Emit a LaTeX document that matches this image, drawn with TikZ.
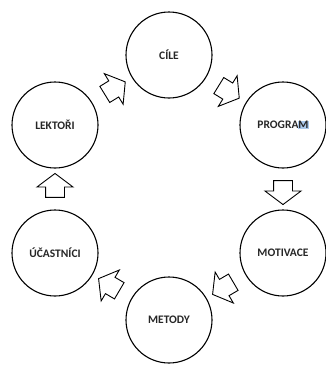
\documentclass[tikz,border=0pt]{standalone}
\usepackage{fontspec}
\setmainfont{Carlito}
\usetikzlibrary{shapes.arrows,calc}
\definecolor{selblue}{RGB}{170,200,235}
\begin{document}
\begin{tikzpicture}[x=1pt,y=1pt,
  circ/.style={circle,draw=black,line width=1.1pt,minimum size=86pt,inner sep=0pt,
    font=\bfseries\fontsize{11.5}{13}\selectfont,text=black!85},
  blockarrow/.style={single arrow,draw=black,line width=0.9pt,fill=white,
    minimum height=24pt,inner xsep=0pt,inner ysep=0.5pt,single arrow head extend=8.5pt,
    single arrow tip angle=106}]
\useasboundingbox (0,0) rectangle (325,-365);
\node[circ] (cil) at (169,-55) {CÍLE};
\node[circ] (lek) at (55,-125) {LEKTOŘI};
\node[circ] (pro) at (283,-125) {PROGRA{\setlength{\fboxsep}{0pt}\colorbox{selblue}{M}}};
\node[circ] (uca) at (55,-253) {ÚČASTNÍCI};
\node[circ] (mot) at (283,-253) {MOTIVACE};
\node[circ] (met) at (169,-320) {METODY};
\foreach \a/\b/\nm in {lek/cil/a1,cil/pro/a2,pro/mot/a3,mot/met/a4,met/uca/a5,uca/lek/a6}{
  \path let \p1=($(\b)-(\a)$), \n1={atan2(\y1,\x1)} in
    node[blockarrow,rotate=\n1] (\nm) at ($(\a)!0.5!(\b)$) {\rule{0pt}{17pt}};
}
\end{tikzpicture}
\end{document}
